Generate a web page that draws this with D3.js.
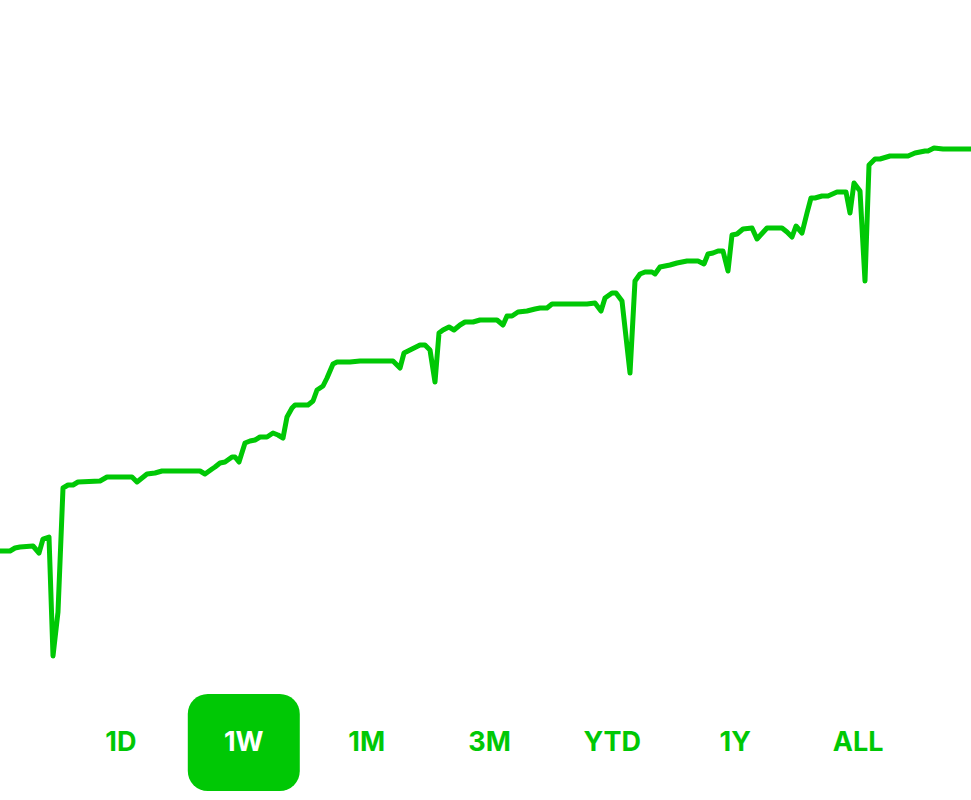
<!DOCTYPE html>
<html>
<head>
<meta charset="utf-8">
<script src="https://cdn.jsdelivr.net/npm/d3@7"></script>
<style>
  html, body { margin: 0; padding: 0; background: #ffffff; }
  svg { display: block; }
</style>
</head>
<body>
<div id="chart"></div>
<script>
// time steps (within the 1W window)
const timeSteps = [0,10,15,20,33,39,43,49,53,58,63,68,73,78,100,107,132,137,147,155,162,200,205,212,215,220,225,232,235,239,245,250,255,260,267,273,278,283,287,292,295,308,313,317,323,327,333,337,350,360,393,400,404,410,420,425,430,435,439,443,449,454,460,465,473,480,497,503,507,512,518,527,535,540,547,552,567,587,595,601,605,612,616,622,630,635,640,645,652,655,660,665,670,677,687,698,704,708,713,718,723,728,732,737,743,752,757,767,782,787,792,796,802,807,811,815,822,828,837,846,850,854,860,865,869,875,880,890,908,915,925,928,934,943,971];
// portfolio values (arbitrary units)
const values = [149,149,152,153,154,147,161,163,44,88,212,215,215,218,219,223,223,218,226,227,229,229,226,231,233,237,238,243,243,238,257,259,260,263,263,267,265,262,283,292,295,295,299,310,314,322,336,338,338,339,339,332,347,350,355,355,350,318,367,370,373,370,375,378,378,380,380,375,384,384,388,389,391,392,392,396,396,396,397,389,402,407,407,399,327,419,426,428,428,426,433,434,435,437,439,439,436,446,447,449,449,429,465,466,471,472,461,472,472,468,463,474,467,487,502,502,504,504,508,508,487,517,509,419,535,541,541,544,544,547,549,549,552,551,551];
const ranges = ["1D","1W","1M","3M","YTD","1Y","ALL"];
const selectedRange = "1W";

const W = 971, H = 800;
const green = "#00C805";

const svg = d3.select("#chart").append("svg")
  .attr("width", W).attr("height", H)
  .style("background", "#fff");

const x = d3.scaleLinear().domain([0, 971]).range([0, W]);
const y = d3.scaleLinear().domain([44, 553]).range([656, 147]);

const data = timeSteps.map((t, i) => ({ t, v: values[i] }));

const line = d3.line()
  .x(d => x(d.t))
  .y(d => y(d.v));

svg.append("path")
  .datum(data)
  .attr("d", line)
  .attr("fill", "none")
  .attr("stroke", green)
  .attr("stroke-width", 5)
  .attr("stroke-linejoin", "round")
  .attr("stroke-linecap", "butt");

// range selector
const bx = d3.scaleBand().domain(ranges).range([59.5, 919.5]).padding(0);
const g = svg.append("g");
const btn = g.selectAll("g.btn").data(ranges).join("g")
  .attr("class", "btn")
  .attr("transform", d => `translate(${bx(d) + bx.bandwidth() / 2},0)`);

btn.filter(d => d === selectedRange)
  .append("rect")
  .attr("x", -56).attr("y", 694)
  .attr("width", 112).attr("height", 97)
  .attr("rx", 20).attr("ry", 20)
  .attr("fill", green);

btn.append("text")
  .attr("x", 0).attr("y", 751)
  .attr("text-anchor", "middle")
  .attr("font-family", "Inter, 'Noto Sans', sans-serif")
  .attr("font-weight", 700)
  .attr("font-size", 27)
  .attr("fill", d => d === selectedRange ? "#ffffff" : green)
  .text(d => d);
</script>
</body>
</html>
